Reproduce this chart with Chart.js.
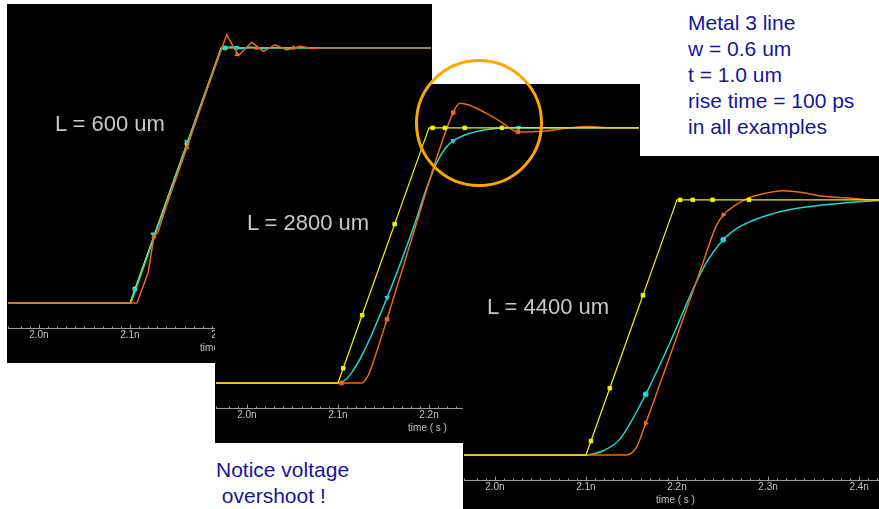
<!DOCTYPE html>
<html>
<head>
<meta charset="utf-8">
<script src="https://cdn.jsdelivr.net/npm/chart.js@4.4.0/dist/chart.umd.min.js"></script>
<style>
  html, body { margin: 0; padding: 0; background: #fff; width: 879px; height: 509px; overflow: hidden; position: relative; font-family: 'Liberation Sans', Arial, sans-serif; }
  .panel { position: absolute; width: 425px; height: 359px; background: #000; }
  .len { position: absolute; color: #c8c8c8; font-size: 22px; line-height: 22px; white-space: pre; z-index: 5; }
  .note { position: absolute; color: #1515a0; font-size: 21px; line-height: 26px; white-space: pre; z-index: 5; }
  #ring { position: absolute; left: 415px; top: 59px; width: 128px; height: 128px; box-sizing: border-box; border: 3px solid #ffa500; border-radius: 50%; z-index: 6; }
</style>
</head>
<body>
<div class="panel" style="left:7px; top:4px; z-index:1"><canvas id="p600" width="425" height="359"></canvas></div>
<div class="panel" style="left:215px; top:84px; z-index:2"><canvas id="p2800" width="425" height="359"></canvas></div>
<div class="panel" style="left:463px; top:156px; z-index:3"><canvas id="p4400" width="425" height="359"></canvas></div>

<div class="len" style="left:55px; top:113px">L = 600 um</div>
<div class="len" style="left:247px; top:212px">L = 2800 um</div>
<div class="len" style="left:487px; top:296px">L = 4400 um</div>
<div class="note" style="left:688px; top:10px">Metal 3 line
w = 0.6 um
t = 1.0 um
rise time = 100 ps
in all examples</div>
<div class="note" style="left:216px; top:457px">Notice voltage
 overshoot !</div>
<div id="ring"></div>

<script>
// 時間軸 (ns) と電圧 (正規化: 0 = 初期値, 1 = 最終値)
const tMin = 1.9661, tMax = 2.4306;
const vMin = -0.0977, vMax = 1.1719;

// L = 600 um
const l600Yellow = [[1.95, 0], [2.1, 0], [2.2, 1], [2.45, 1]];
const l600Cyan = [[1.95, 0], [2.101, 0], [2.106, 0.05], [2.2, 0.995], [2.204, 1.0], [2.212, 1.004], [2.222, 0.997], [2.232, 1.003], [2.245, 0.998], [2.26, 1.0], [2.45, 1]];
const l600Orange = [[1.95, 0], [2.1077, 0], [2.12, 0.12], [2.1264, 0.26], [2.131, 0.28], [2.14, 0.38], [2.1626, 0.61], [2.185, 0.84], [2.2, 0.99], [2.2063, 1.051], [2.219, 0.969], [2.2337, 1.022], [2.2465, 0.986], [2.2593, 1.012], [2.2722, 0.992], [2.2868, 1.006], [2.2997, 0.998], [2.312, 1.0], [2.45, 1]];
const l600YellowMarks = [[2.1055, 0.055], [2.1626, 0.626], [2.2044, 1]];
const l600CyanMarks = [[2.1055, 0.052], [2.1253, 0.27], [2.1626, 0.633], [2.2044, 1], [2.2173, 1]];
const l600OrangeMarks = [[2.1264, 0.26], [2.1626, 0.61], [2.2176, 0.975], [2.2392, 1], [2.2795, 1]];

// L = 2800 um
const l2800Yellow = [[1.95, 0], [2.1, 0], [2.2, 1], [2.45, 1]];
const l2800Cyan = [[1.95, 0], [2.1, 0], [2.105, 0.005], [2.113, 0.03], [2.128, 0.12], [2.154, 0.335], [2.182, 0.6], [2.198, 0.77], [2.208, 0.86], [2.218, 0.92], [2.2266, 0.949], [2.245, 0.979], [2.267, 0.995], [2.3, 1.0], [2.45, 1]];
const l2800Orange = [[1.95, 0], [2.1259, 0], [2.1331, 0.029], [2.1386, 0.081], [2.1539, 0.25], [2.1831, 0.59], [2.21, 0.9], [2.2266, 1.06], [2.2339, 1.096], [2.2631, 1.057], [2.2813, 1.018], [2.2904, 0.995], [2.2977, 0.984], [2.325, 0.987], [2.354, 1.0], [2.375, 1.005], [2.4, 1.0], [2.45, 1]];
const l2800YellowMarks = [[2.1058, 0.058], [2.1266, 0.266], [2.1623, 0.623], [2.204, 1], [2.2175, 1], [2.2393, 1], [2.2801, 1]];
const l2800CyanMarks = [[2.1539, 0.335], [2.2266, 0.949], [2.2984, 1]];
const l2800OrangeMarks = [[2.104, 0], [2.1539, 0.25], [2.2266, 1.06], [2.2977, 0.984]];

// L = 4400 um
const l4400Yellow = [[1.95, 0], [2.1, 0], [2.2, 1], [2.45, 1]];
const l4400Cyan = [[1.95, 0], [2.1, 0], [2.108, 0.005], [2.1189, 0.017], [2.1372, 0.0625], [2.1656, 0.238], [2.1954, 0.466], [2.2173, 0.648], [2.2319, 0.752], [2.2508, 0.844], [2.268, 0.893], [2.2866, 0.924], [2.3011, 0.942], [2.323, 0.961], [2.3594, 0.98], [2.414, 0.996], [2.45, 1]];
const l4400Orange = [[1.95, 0], [2.1445, 0], [2.1554, 0.03], [2.1656, 0.124], [2.1954, 0.42], [2.2282, 0.75], [2.2428, 0.896], [2.2508, 0.941], [2.2647, 0.98], [2.2756, 1.003], [2.2938, 1.023], [2.3157, 1.036], [2.3375, 1.029], [2.3557, 1.016], [2.3921, 1.006], [2.4176, 1.0], [2.45, 1]];
const l4400YellowMarks = [[2.1055, 0.055], [2.1262, 0.262], [2.1626, 0.626], [2.2035, 1], [2.2173, 1], [2.2391, 1], [2.2792, 1]];
const l4400CyanMarks = [[2.1656, 0.238], [2.2508, 0.844]];
const l4400OrangeMarks = [[2.1656, 0.124], [2.2508, 0.941]];

const YEL = '#f2f200';
const CYN = '#1ed8d8';
const ORG = '#ee6a12';
const AXIS = '#9a9a9a';

function toXY(pairs) {
  return pairs.map(p => ({ x: p[0], y: p[1] }));
}

function trace(pairs, color, width, smooth) {
  return {
    data: toXY(pairs),
    borderColor: color,
    borderWidth: width,
    pointRadius: 0,
    cubicInterpolationMode: smooth ? 'monotone' : 'default',
    tension: 0
  };
}

function marks(pairs, color, style, rot) {
  return {
    data: toXY(pairs),
    showLine: false,
    pointStyle: style,
    pointRadius: 2.5,
    pointRotation: rot || 0,
    pointBackgroundColor: color,
    pointBorderColor: color,
    pointBorderWidth: 1
  };
}

// 目盛りは軸線から上向きに描く
const tickMarks = {
  id: 'tickMarks',
  afterDraw(chart) {
    const sc = chart.scales.x;
    const ctx = chart.ctx;
    const y0 = Math.round(sc.top) + 0.5;
    ctx.save();
    ctx.strokeStyle = AXIS;
    ctx.lineWidth = 1;
    sc.ticks.forEach(t => {
      const px = Math.round(sc.getPixelForValue(t.value)) + 0.5;
      const major = Math.round(t.value * 100) % 10 === 0;
      ctx.beginPath();
      ctx.moveTo(px, y0);
      ctx.lineTo(px, y0 - (major ? 4 : 2));
      ctx.stroke();
    });
    ctx.restore();
  }
};

function makePanel(id, sets) {
  new Chart(document.getElementById(id), {
    type: 'line',
    data: { datasets: sets },
    options: {
      responsive: false,
      animation: false,
      layout: { autoPadding: false, padding: { top: 0, left: 0, right: 0, bottom: 8 } },
      plugins: { legend: { display: false }, tooltip: { enabled: false } },
      scales: {
        x: {
          type: 'linear',
          min: tMin,
          max: tMax,
          border: { display: true, color: AXIS, width: 1 },
          grid: { display: false, drawTicks: false },
          ticks: {
            stepSize: 0.01,
            autoSkip: false,
            maxRotation: 0,
            padding: 1,
            color: '#c4c4c4',
            font: { family: 'Liberation Sans', size: 10 },
            callback: v => Math.round(v * 100) % 10 === 0 ? v.toFixed(1) + 'n' : ''
          },
          title: {
            display: true,
            text: 'time ( s )',
            color: '#c4c4c4',
            font: { family: 'Liberation Sans', size: 10 },
            padding: { top: 0, bottom: 1 }
          }
        },
        y: { display: false, min: vMin, max: vMax }
      }
    },
    plugins: [tickMarks]
  });
}

// 先頭のデータセットほど上に描かれる
makePanel('p600', [
  marks(l600OrangeMarks, ORG, 'triangle'),
  trace(l600Orange, ORG, 1.5, false),
  marks(l600CyanMarks, CYN, 'triangle', 180),
  trace(l600Cyan, CYN, 1.5, false),
  marks(l600YellowMarks, YEL, 'rect'),
  trace(l600Yellow, YEL, 1.2, false)
]);

makePanel('p2800', [
  marks(l2800YellowMarks, YEL, 'rect'),
  trace(l2800Yellow, YEL, 1.2, false),
  marks(l2800OrangeMarks, ORG, 'rect'),
  trace(l2800Orange, ORG, 1.5, true),
  marks(l2800CyanMarks, CYN, 'triangle', 180),
  trace(l2800Cyan, CYN, 1.5, true)
]);

makePanel('p4400', [
  marks(l4400YellowMarks, YEL, 'rect'),
  trace(l4400Yellow, YEL, 1.2, false),
  marks(l4400OrangeMarks, ORG, 'triangle', 210),
  trace(l4400Orange, ORG, 1.5, true),
  marks(l4400CyanMarks, CYN, 'circle'),
  trace(l4400Cyan, CYN, 1.5, true)
]);
</script>
</body>
</html>
